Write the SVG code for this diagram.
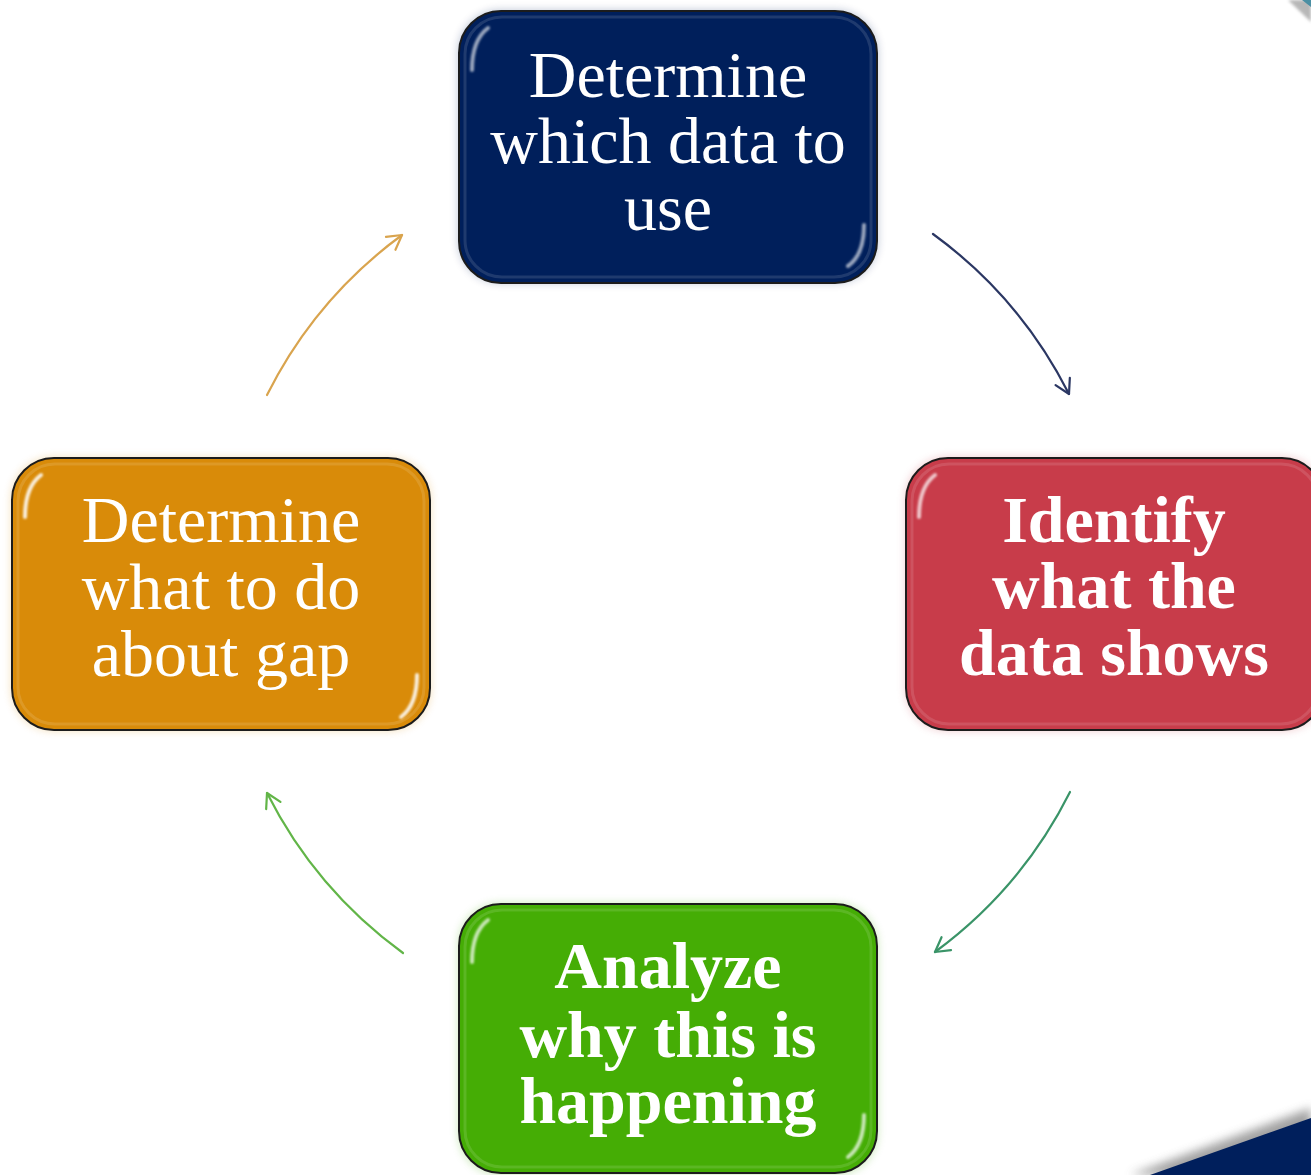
<svg xmlns="http://www.w3.org/2000/svg" width="1311" height="1175" viewBox="0 0 1311 1175">
<style>
  .box{stroke:#1c1c1c;stroke-width:2}
  .inner{fill:none;stroke:#ffffff;stroke-opacity:0.12;stroke-width:3}
  .streak{stroke:#ffffff;stroke-width:4;stroke-linecap:round}
  .lbl{font-family:"Liberation Serif","Times New Roman",serif;font-size:66px;fill:#ffffff;text-anchor:middle}
  .b{font-weight:bold}
  .conn{fill:none;stroke-width:2.2;stroke-linecap:round}
</style>
<defs>
  <filter id="glow" x="-10%" y="-10%" width="120%" height="120%">
    <feGaussianBlur stdDeviation="4"/>
  </filter>
  <filter id="soft" x="-50%" y="-50%" width="200%" height="200%">
    <feGaussianBlur stdDeviation="1.5"/>
  </filter>
  <filter id="blur1" x="-200%" y="-10%" width="500%" height="120%">
    <feGaussianBlur stdDeviation="1.3"/>
  </filter>
  <filter id="shadow" x="-20%" y="-50%" width="140%" height="200%">
    <feGaussianBlur stdDeviation="5"/>
  </filter>
  <marker id="ah1" viewBox="-16 -10 20 20" markerWidth="20" markerHeight="20" refX="0" refY="0" orient="auto" markerUnits="userSpaceOnUse">
    <path d="M-14,-8 L0,0 L-14,8" fill="none" stroke="#2b3763" stroke-width="2.2" stroke-linecap="round" stroke-linejoin="round"/>
  </marker>
  <marker id="ah2" viewBox="-16 -10 20 20" markerWidth="20" markerHeight="20" refX="0" refY="0" orient="auto" markerUnits="userSpaceOnUse">
    <path d="M-14,-8 L0,0 L-14,8" fill="none" stroke="#3a9468" stroke-width="2.2" stroke-linecap="round" stroke-linejoin="round"/>
  </marker>
  <marker id="ah3" viewBox="-16 -10 20 20" markerWidth="20" markerHeight="20" refX="0" refY="0" orient="auto" markerUnits="userSpaceOnUse">
    <path d="M-14,-8 L0,0 L-14,8" fill="none" stroke="#62b548" stroke-width="2.2" stroke-linecap="round" stroke-linejoin="round"/>
  </marker>
  <marker id="ah4" viewBox="-16 -10 20 20" markerWidth="20" markerHeight="20" refX="0" refY="0" orient="auto" markerUnits="userSpaceOnUse">
    <path d="M-14,-8 L0,0 L-14,8" fill="none" stroke="#d9a44e" stroke-width="2.2" stroke-linecap="round" stroke-linejoin="round"/>
  </marker>
</defs>
<rect width="1311" height="1175" fill="#ffffff"/>

<!-- corner decorations -->
<g id="corner-top-right">
  <polygon points="1288,0 1311,0 1311,22" fill="#9a9a9a" filter="url(#soft)" opacity="0.7"/>
  <polygon points="1302,0 1311,0 1311,7" fill="#4b8fa3"/>
</g>
<g id="corner-bottom-right">
  <polygon points="1130,1175 1311,1108 1311,1175" fill="#8a8a8a" filter="url(#shadow)" opacity="0.8"/>
  <polygon points="1150,1175 1311,1118 1311,1175" fill="#001f5c"/>
</g>

<g id="connectors">
  <path class="conn" stroke="#2b3763" d="M933,234 A447,447 0 0 1 1069,394" marker-end="url(#ah1)"/>
  <path class="conn" stroke="#3a9468" d="M1070,792 A447,447 0 0 1 935,952" marker-end="url(#ah2)"/>
  <path class="conn" stroke="#62b548" d="M403,953 A447,447 0 0 1 267,793" marker-end="url(#ah3)"/>
  <path class="conn" stroke="#d9a44e" d="M267,395 A447,447 0 0 1 402,235" marker-end="url(#ah4)"/>
</g>

<g id="node-top">
  <rect x="458" y="10" width="420" height="273" rx="42" fill="#002060" opacity="0.25" filter="url(#glow)"/>
  <rect class="box" x="459" y="11" width="418" height="272" rx="42" fill="#001f5b"/>
  <rect class="inner" x="465" y="17" width="406" height="260" rx="37"/>
  <path class="streak" d="M472,70 Q472,40 488,28" fill="none" stroke-opacity="0.6" filter="url(#blur1)"/>
  <line class="streak" x1="472" y1="60" x2="472" y2="240" stroke-opacity="0.25" filter="url(#blur1)"/>
  <line class="streak" x1="864" y1="60" x2="864" y2="240" stroke-opacity="0.3" filter="url(#blur1)"/>
  <path class="streak" d="M864,225 Q864,255 848,266" fill="none" stroke-opacity="0.6" filter="url(#blur1)"/>
  <text class="lbl" x="668" y="97">Determine</text>
  <text class="lbl" x="668" y="163">which data to</text>
  <text class="lbl" x="668" y="230">use</text>
</g>

<g id="node-right">
  <rect x="905" y="457" width="420" height="274" rx="42" fill="#c83c4a" opacity="0.25" filter="url(#glow)"/>
  <rect class="box" x="906" y="458" width="418" height="272" rx="42" fill="#c83c4a"/>
  <rect class="inner" x="912" y="464" width="406" height="260" rx="37"/>
  <path class="streak" d="M919,517 Q919,487 935,475" fill="none" stroke-opacity="0.7" filter="url(#blur1)"/>
  <line class="streak" x1="919" y1="505" x2="919" y2="690" stroke-opacity="0.35" filter="url(#blur1)"/>
  <text class="lbl b" x="1114" y="542">Identify</text>
  <text class="lbl b" x="1114" y="608">what the</text>
  <text class="lbl b" x="1114" y="675">data shows</text>
</g>

<g id="node-bottom">
  <rect x="458" y="903" width="420" height="272" rx="42" fill="#45ad05" opacity="0.25" filter="url(#glow)"/>
  <rect class="box" x="459" y="904" width="418" height="269" rx="42" fill="#45ad05"/>
  <rect class="inner" x="465" y="910" width="406" height="257" rx="37"/>
  <path class="streak" d="M472,962 Q472,932 488,920" fill="none" stroke-opacity="0.7" filter="url(#blur1)"/>
  <line class="streak" x1="472" y1="950" x2="472" y2="1130" stroke-opacity="0.35" filter="url(#blur1)"/>
  <line class="streak" x1="864" y1="950" x2="864" y2="1130" stroke-opacity="0.4" filter="url(#blur1)"/>
  <path class="streak" d="M864,1115 Q864,1145 848,1157" fill="none" stroke-opacity="0.7" filter="url(#blur1)"/>
  <text class="lbl b" x="668" y="988">Analyze</text>
  <text class="lbl b" x="668" y="1057">why this is</text>
  <text class="lbl b" x="668" y="1123">happening</text>
</g>

<g id="node-left">
  <rect x="11" y="457" width="420" height="274" rx="42" fill="#d98b09" opacity="0.25" filter="url(#glow)"/>
  <rect class="box" x="12" y="458" width="418" height="272" rx="42" fill="#d98b09"/>
  <rect class="inner" x="18" y="464" width="406" height="260" rx="37"/>
  <path class="streak" d="M25,517 Q25,487 41,475" fill="none" stroke="#ffe680" stroke-opacity="0.85" filter="url(#blur1)"/>
  <line class="streak" x1="25" y1="505" x2="25" y2="690" stroke="#ffe27a" stroke-opacity="0.55" filter="url(#blur1)"/>
  <line class="streak" x1="417" y1="505" x2="417" y2="690" stroke="#ffe27a" stroke-opacity="0.55" filter="url(#blur1)"/>
  <path class="streak" d="M417,675 Q417,705 401,717" fill="none" stroke="#ffe680" stroke-opacity="0.85" filter="url(#blur1)"/>
  <text class="lbl" x="221" y="542">Determine</text>
  <text class="lbl" x="221" y="609">what to do</text>
  <text class="lbl" x="221" y="676">about gap</text>
</g>
</svg>
